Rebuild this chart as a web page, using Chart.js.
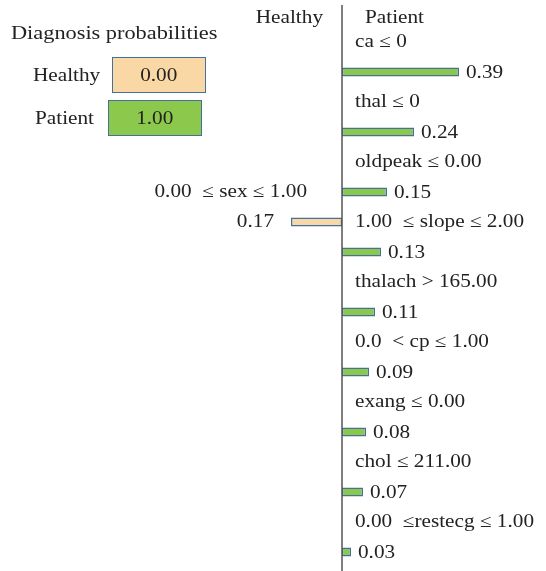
<!DOCTYPE html>
<html>
<head>
<meta charset="utf-8">
<script src="https://cdn.jsdelivr.net/npm/chart.js@4"></script>
<style>
    body { margin: 0; background: #fff; }
    #wrap { position: relative; width: 546px; height: 571px; }
    #chart { position: absolute; left: 0; top: 0; }
    .txt {
        position: absolute;
        font-family: "Liberation Serif", "Times New Roman", serif;
        font-size: 18px;
        color: #222;
        line-height: 1;
        white-space: nowrap;
        transform: scaleX(1.18);
        transform-origin: left center;
    }
    .box {
        position: absolute;
        box-sizing: border-box;
        border: 1.5px solid #41719c;
        font-family: "Liberation Serif", "Times New Roman", serif;
        font-size: 18px;
        color: #222;
        display: flex;
        align-items: center;
        justify-content: center;
    }
    .box span { display: inline-block; transform: scaleX(1.18); }
</style>
</head>
<body>
<div id="wrap">
    <canvas id="chart" width="546" height="571"></canvas>
    <div id="probs"></div>
</div>
<script>
// class probabilities
let classNames = ['Healthy', 'Patient'];
let classProbs = [0.00, 1.00];
let classColors = ['#fad8a5', '#8cc84b'];

// feature rows, top to bottom
let rowLabels = ['ca \u2264 0', 'thal \u2264 0', 'oldpeak \u2264 0.00', '1.00  \u2264 slope \u2264 2.00',
    'thalach > 165.00', '0.0  < cp \u2264 1.00', 'exang \u2264 0.00', 'chol \u2264 211.00', '0.00  \u2264restecg \u2264 1.00'];
let patientValues = [0.39, 0.24, 0.15, 0.13, 0.11, 0.09, 0.08, 0.07, 0.03];

// features pushing towards Healthy (shown left of the axis)
let healthyLabels = [null, null, null, '0.00  \u2264 sex \u2264 1.00', null, null, null, null, null];
let healthyValues = [null, null, null, 0.17, null, null, null, null, null];

const FONT = '18px "Liberation Serif", "Times New Roman", serif';
const STRETCH = 1.18;

function drawText(ctx, text, x, y, align) {
    ctx.save();
    ctx.translate(x, y);
    ctx.scale(STRETCH, 1);
    ctx.font = FONT;
    ctx.fillStyle = '#222';
    ctx.textAlign = align;
    ctx.textBaseline = 'middle';
    ctx.fillText(text, 0, 0);
    ctx.restore();
}

// left panel with the probabilities
let probs = document.getElementById('probs');
probs.insertAdjacentHTML('beforeend', `<div class="txt" style="left:11px;top:24px;transform:scaleX(1.24);">Diagnosis probabilities</div>`);
classNames.forEach((name, i) => {
    let top = 57 + i * 43;
    probs.insertAdjacentHTML('beforeend', `
        <div class="txt" style="left:${i == 0 ? 33 : 35}px;top:${top + 9}px;">${name}</div>
        <div class="box" style="left:${i == 0 ? 112 : 108}px;top:${top}px;width:94px;height:36px;background:${classColors[i]};"><span>${classProbs[i].toFixed(2)}</span></div>
    `);
});

const labelPlugin = {
    id: 'limeLabels',
    afterDatasetsDraw(chart) {
        let ctx = chart.ctx;
        let x0 = chart.scales.x.getPixelForValue(0);

        // centre axis line
        ctx.save();
        ctx.strokeStyle = '#555';
        ctx.lineWidth = 1.5;
        ctx.beginPath();
        ctx.moveTo(x0, 5);
        ctx.lineTo(x0, 571);
        ctx.stroke();
        ctx.restore();

        drawText(ctx, classNames[0], x0 - 19, 18, 'right');
        drawText(ctx, classNames[1], x0 + 23, 18, 'left');

        let healthyBars = chart.getDatasetMeta(0).data;
        let patientBars = chart.getDatasetMeta(1).data;
        patientBars.forEach((bar, i) => {
            drawText(ctx, rowLabels[i], x0 + 13, bar.y - 30, 'left');
            drawText(ctx, patientValues[i].toFixed(2), bar.x + 7, bar.y + 1, 'left');
        });
        healthyBars.forEach((bar, i) => {
            if (healthyValues[i] == null) return;
            drawText(ctx, healthyLabels[i], x0 - 35, bar.y - 30, 'right');
            drawText(ctx, healthyValues[i].toFixed(2), bar.x - 17, bar.y, 'right');
        });
    }
};

new Chart(document.getElementById('chart'), {
    type: 'bar',
    data: {
        labels: rowLabels,
        datasets: [{
            label: classNames[0],
            data: healthyValues.map(v => v == null ? null : -v),
            backgroundColor: classColors[0],
            borderColor: '#41719c',
            borderWidth: 1.5,
            borderSkipped: false
        }, {
            label: classNames[1],
            data: patientValues,
            backgroundColor: classColors[1],
            borderColor: '#41719c',
            borderWidth: 1.5,
            borderSkipped: false
        }]
    },
    options: {
        indexAxis: 'y',
        responsive: false,
        animation: false,
        categoryPercentage: 1,
        barPercentage: 0.3,
        layout: { padding: { top: 27, bottom: 4, left: 0, right: 0 } },
        plugins: {
            legend: { display: false },
            tooltip: { enabled: false }
        },
        scales: {
            x: { display: false, min: -1.14, max: 0.68 },
            y: { display: false }
        }
    },
    plugins: [labelPlugin]
});
</script>
</body>
</html>
